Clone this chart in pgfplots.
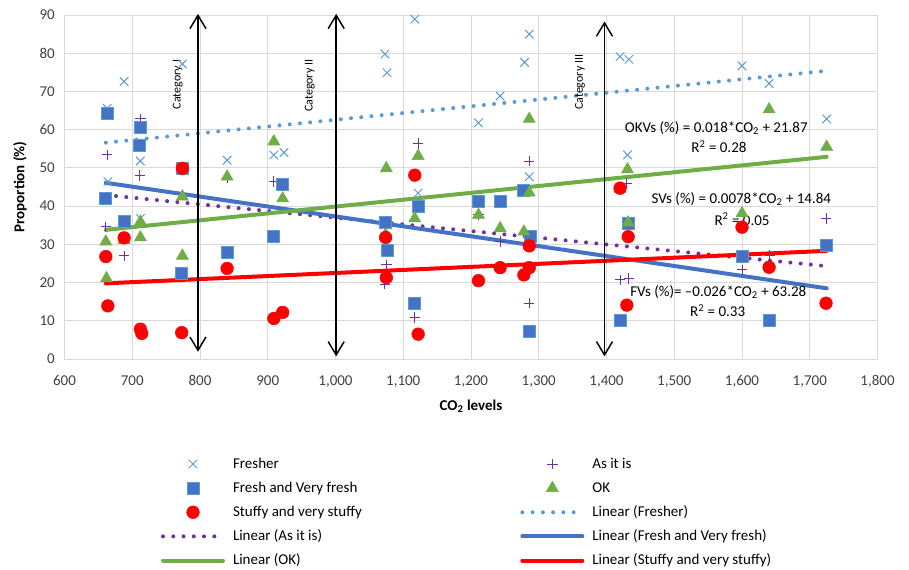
\documentclass[border=0pt]{standalone}
\usepackage{fontspec}
\setmainfont{Carlito}
\usepackage{pgfplots}
\pgfplotsset{compat=1.18}
\usetikzlibrary{arrows.meta}
\definecolor{cFresher}{HTML}{5B9BD5}
\definecolor{cFresh}{HTML}{4472C4}
\definecolor{cStuffy}{HTML}{FF0000}
\definecolor{cAsis}{HTML}{7030A0}
\definecolor{cOK}{HTML}{70AD47}
\definecolor{cGrid}{HTML}{D9D9D9}
\definecolor{cText}{HTML}{404040}
\newcommand\cf{\fontsize{11.25pt}{13.5pt}\selectfont}
\newcommand\cfs{\fontsize{9pt}{11pt}\selectfont}
\begin{document}
\begin{tikzpicture}
\path[use as bounding box] (-48.375pt,-157.5pt) rectangle (633.375pt,269.25pt);
\begin{axis}[
  at={(0,0)}, anchor=south west,
  scale only axis, width=609.75pt, height=258pt,
  xmin=600, xmax=1800, ymin=0, ymax=90,
  xtick={600,700,...,1800}, ytick={0,10,...,90},
  grid=major, major grid style={draw=cGrid, line width=0.75pt},
  axis line style={draw=cGrid, line width=0.75pt},
  major tick length=0pt,
  clip=false,
  tick label style={font=\cf, text=cText},
  xticklabel style={yshift=-9pt},
  yticklabel style={xshift=-3.75pt},
  /pgf/number format/.cd, 1000 sep={,}, assume math mode=true, /pgfplots/.cd,
  xlabel={CO\textsubscript{2} levels},
  xlabel style={font=\cf\bfseries, at={(axis description cs:0.5,-0.1366)}, anchor=center},
  ylabel={Proportion (\%)},
  ylabel style={font=\cf\bfseries, at={(axis description cs:-0.0548,0.5)}, anchor=center},
  legend columns=2,
  legend cell align=left,
  legend style={at={(axis description cs:0.1187,-0.2781)}, anchor=north west,
    draw=none, fill=none, inner sep=0pt, outer sep=0pt, row sep=4.1pt, font=\cf,
    nodes={inner sep=0pt, text height=10pt, text depth=4pt},
    /tikz/every odd column/.append style={column sep=6pt},
    /tikz/every even column/.append style={column sep=115.5pt}},
  legend image code/.code={\draw[mark repeat=2,mark phase=2,#1] plot coordinates {(0pt,0pt)(22.5pt,0pt)(45pt,0pt)};},
]
% Fresher
\addplot[only marks, mark=x, mark size=4.5pt, color=cFresher, mark options={line width=0.75pt}] table {
663 65.6
688 72.6
774 77.2
712 51.8
664 46.4
840 52.0
909 53.4
924 54.0
712 36.8
1117 88.9
1073 79.8
1076 74.9
1286 85.0
1279 77.6
1243 68.8
1211 61.8
1286 47.7
1122 43.4
1420 79.1
1433 78.4
1600 76.7
1640 72.1
1725 62.8
1431 53.4
};
\addlegendentry{\makebox[100pt][l]{Fresher}}
% As it is
\addplot[only marks, mark=+, mark size=3.9pt, color=cAsis, mark options={line width=0.75pt}] table {
663 53.4
712 62.8
711 48.0
840 47.5
909 46.4
661 34.6
688 27.0
1122 56.4
1286 51.8
1075 24.6
1073 19.6
1117 10.9
1211 37.7
1243 30.7
1286 14.6
1430 46.0
1420 20.7
1433 21.1
1600 23.3
1641 27.2
1724 36.8
};
\addlegendentry{As it is}
% Fresh and Very fresh
\addplot[only marks, mark=square*, mark size=4.5pt, mark options={fill=cFresh, draw=cFresher, line width=0.6pt}] table {
663 64.3
712 60.5
710 55.8
774 49.9
922 45.8
661 42.0
688 36.1
773 22.4
840 27.8
909 32.0
1074 35.7
1076 28.3
1122 39.9
1117 14.6
1211 41.2
1243 41.2
1278 44.2
1288 32.0
1286 7.1
1420 10.1
1432 35.5
1600 26.9
1640 10.0
1724 29.6
};
\addlegendentry{\makebox[100pt][l]{Fresh and Very fresh}}
% OK
\addplot[only marks, mark=triangle*, mark size=5.2pt, color=cOK, mark options={fill=cOK, draw=cOK}] table {
661 30.7
662 21.1
688 31.1
712 31.8
712 35.9
774 42.5
774 27.0
840 47.7
909 56.9
922 42.0
1074 32.5
1075 49.9
1117 36.8
1122 53.1
1211 37.7
1243 34.2
1278 33.3
1286 62.8
1286 43.5
1420 44.5
1431 49.6
1432 35.7
1600 38.1
1640 65.3
1725 55.5
};
\addlegendentry{OK}
% Stuffy
\addplot[only marks, mark=*, mark size=4.75pt, color=cStuffy, mark options={fill=cStuffy, draw=cStuffy}] table {
661 26.8
664 13.9
688 31.7
712 7.8
714 6.7
773 6.9
774 49.9
840 23.7
909 10.6
922 12.2
1074 31.8
1075 21.3
1117 48.1
1122 6.5
1211 20.5
1243 23.9
1278 22.0
1286 23.9
1286 29.6
1420 44.7
1430 14.1
1432 32.0
1600 34.5
1640 24.0
1724 14.6
};
\addlegendentry{\makebox[100pt][l]{Stuffy and very stuffy}}
% Trend lines
\addplot[no marks, color=cFresher, line width=3pt, line cap=round, dash pattern=on 0pt off 7.7pt] coordinates {(661,56.6) (1725,75.4)};
\addlegendentry{Linear (Fresher)}
\addplot[no marks, color=cAsis, line width=3pt, line cap=round, dash pattern=on 0pt off 7.7pt] coordinates {(661,42.9) (1725,24.3)};
\addlegendentry{\makebox[100pt][l]{Linear (As it is)}}
\addplot[no marks, color=cFresh, line width=3pt, line cap=round] coordinates {(661,46.1) (1725,18.5)};
\addlegendentry{Linear (Fresh and Very fresh)}
\addplot[no marks, color=cOK, line width=3pt, line cap=round] coordinates {(661,33.8) (1725,52.9)};
\addlegendentry{\makebox[100pt][l]{Linear (OK)}}
\addplot[no marks, color=cStuffy, line width=3pt, line cap=round] coordinates {(661,19.8) (1725,28.3)};
\addlegendentry{Linear (Stuffy and very stuffy)}
% arrows
\draw[black, line width=1.1pt, {Straight Barb[length=10pt,width=12pt]}-{Straight Barb[length=10pt,width=12pt]}] (axis cs:797,90.3) -- (axis cs:797,1.9);
\draw[black, line width=1.1pt, {Straight Barb[length=10pt,width=12pt]}-{Straight Barb[length=10pt,width=12pt]}] (axis cs:1001,90.3) -- (axis cs:1001,0.7);
\draw[black, line width=1.1pt, {Straight Barb[length=10pt,width=12pt]}-{Straight Barb[length=10pt,width=12pt]}] (axis cs:1397,88.3) -- (axis cs:1397,0.7);
\node[font=\cfs, rotate=90] at (axis cs:767,71.8) {Category I};
\node[font=\cfs, rotate=90] at (axis cs:962,71.5) {Category II};
\node[font=\cfs, rotate=90] at (axis cs:1361,72.4) {Category III};
% equations
\node[font=\cf] at (axis cs:1562,60.5) {OKVs (\%) = 0.018*CO\textsubscript{2} + 21.87};
\node[font=\cf] at (axis cs:1566,55.5) {R\textsuperscript{2} = 0.28};
\node[font=\cf] at (axis cs:1599,41.9) {SVs (\%) = 0.0078*CO\textsubscript{2} + 14.84};
\node[font=\cf] at (axis cs:1600,36.6) {R\textsuperscript{2} = 0.05};
\node[font=\cf] at (axis cs:1565,17.5) {FVs (\%)= \textendash0.026*CO\textsubscript{2} + 63.28};
\node[font=\cf] at (axis cs:1564,12.6) {R\textsuperscript{2} = 0.33};
\end{axis}
\end{tikzpicture}
\end{document}
